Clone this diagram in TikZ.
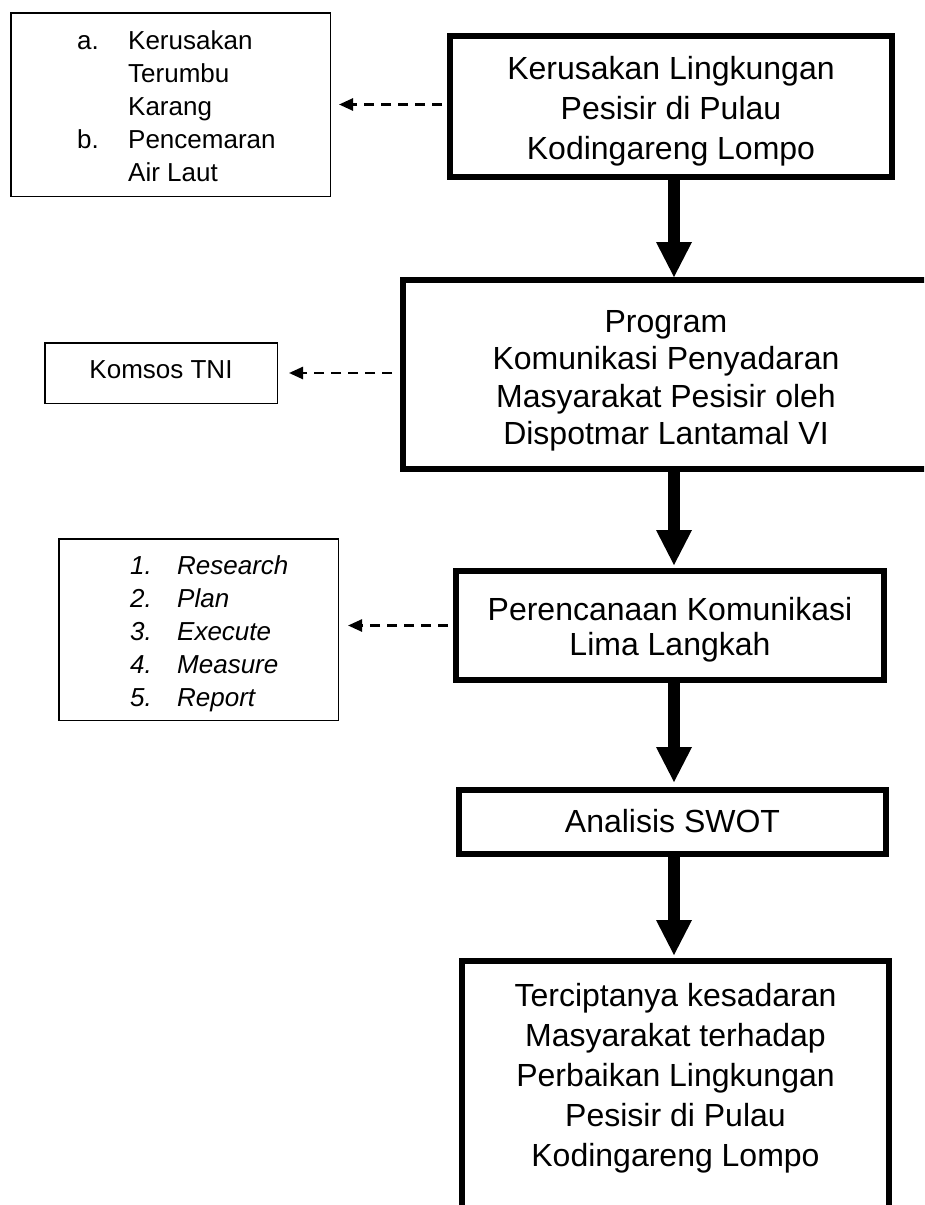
\documentclass[tikz,border=0pt]{standalone}
\usepackage{fontspec}
\setmainfont{Liberation Sans}
\usetikzlibrary{arrows.meta}
\begin{document}
\begin{tikzpicture}[x=1pt,y=-1pt,
  mainbox/.style={draw, line width=6pt, inner sep=0pt, rectangle},
  sidebox/.style={draw, line width=1.5pt, inner sep=0pt, rectangle},
  maintext/.style={align=center, inner sep=0pt, font=\fontsize{32}{40}\selectfont},
  sidetext/.style={inner sep=0pt, font=\fontsize{26}{33}\selectfont},
  bigarr/.style={line width=12pt, -{Triangle[length=35pt,width=36pt,line width=0pt]}},
  dasharr/.style={line width=2.5pt, dash pattern=on 10pt off 7pt, -{Triangle[length=14pt,width=12pt]}}]
\useasboundingbox (0,0) rectangle (924,1205);
\clip (0,0) rectangle (924,1205);
\coordinate (spine) at (674,0);

% main boxes
\node[mainbox, minimum width=442pt, minimum height=141pt] (box1) at (671,106.5) {};
\node[mainbox, minimum width=526pt, minimum height=189pt] (box2) at (666,374.5) {};
\node[mainbox, minimum width=428pt, minimum height=109pt] (box3) at (670,625.5) {};
\node[mainbox, minimum width=427pt, minimum height=64pt] (box4) at (672.5,822) {};
\node[mainbox, minimum width=427pt, minimum height=279pt] (box5) at (675.5,1100.5) {};

\node[maintext] (t1) at (671,111) {Kerusakan Lingkungan\\Pesisir di Pulau\\Kodingareng Lompo};
\node[maintext, font=\fontsize{32}{37.5}\selectfont] (t2) at (666,381) {Program\\Komunikasi Penyadaran\\Masyarakat Pesisir oleh\\Dispotmar Lantamal VI};
\node[maintext, font=\fontsize{32}{35}\selectfont] (t3) at (670,629.5) {Perencanaan Komunikasi\\Lima Langkah};
\node[maintext] (t4) at (672.5,821) {Analisis SWOT};
\node[maintext] (t5) at (675.5,1078) {Terciptanya kesadaran\\Masyarakat terhadap\\Perbaikan Lingkungan\\Pesisir di Pulau\\Kodingareng Lompo};

% side boxes
\node[sidebox, minimum width=319.5pt, minimum height=183.5pt] (listA) at (170.5,104.5) {};
\node[sidetext, anchor=base west] (ta) at (77,49.3) {\begin{tabular}[t]{@{}p{51pt}@{}l@{}}a. & Kerusakan\\ & Terumbu\\ & Karang\\ b. & Pencemaran\\ & Air Laut\end{tabular}};

\node[sidebox, minimum width=232.5pt, minimum height=60.5pt] (kom) at (161,373) {};
\node[sidetext] (tk) at (161,370) {Komsos TNI};

\node[sidebox, minimum width=279.5pt, minimum height=181.5pt] (listB) at (198.5,629.5) {};
\node[sidetext, anchor=base west, font=\fontsize{26}{33}\selectfont\itshape] (tb) at (130,574.3) {\begin{tabular}[t]{@{}p{47pt}@{}l@{}}1. & Research\\ 2. & Plan\\ 3. & Execute\\ 4. & Measure\\ 5. & Report\end{tabular}};

% thick arrows
\draw[bigarr] (box1.south -| spine) -- (box2.north -| spine);
\draw[bigarr, shorten >=3pt] (box2.south -| spine) -- (box3.north -| spine);
\draw[bigarr, shorten >=5pt] (box3.south -| spine) -- (box4.north -| spine);
\draw[bigarr, shorten >=3pt] (box4.south -| spine) -- (box5.north -| spine);

% dashed arrows
\draw[dasharr, shorten <=5pt, shorten >=8pt] (box1.west |- listA.east) -- (listA.east);
\draw[dasharr, shorten <=8pt, shorten >=11pt] (box2.west |- kom.east) -- (kom.east);
\draw[dasharr, shorten <=5pt, shorten >=9pt] (box3.west) -- (box3.west -| listB.east);
\end{tikzpicture}
\end{document}
